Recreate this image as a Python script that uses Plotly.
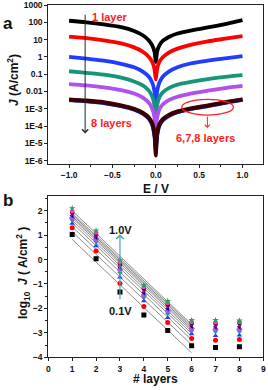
import numpy as np
import plotly.graph_objects as go

# ---------------- Panel a data (log10 J vs E) ----------------
E = [-1.0, -0.8, -0.6, -0.4, -0.25, -0.15, -0.08, -0.04, -0.015, 0.0,
     0.015, 0.04, 0.08, 0.15, 0.25, 0.4, 0.6, 0.8, 1.0]
logJ_1 = [2.09, 2.0, 1.88, 1.72, 1.5, 1.25, 0.95, 0.65, 0.3, -0.3,
          0.3, 0.65, 0.92, 1.15, 1.35, 1.52, 1.7, 1.9, 2.12]
logJ_2 = [1.17, 1.08, 0.95, 0.78, 0.55, 0.3, 0.0, -0.3, -0.7, -1.3,
          -0.7, -0.3, -0.02, 0.25, 0.48, 0.7, 0.9, 1.05, 1.2]
logJ_3 = [0.0, -0.1, -0.22, -0.4, -0.6, -0.85, -1.15, -1.5, -2.0, -2.8,
          -2.0, -1.5, -1.15, -0.85, -0.6, -0.38, -0.22, -0.08, 0.05]
logJ_4 = [-0.83, -0.92, -1.03, -1.2, -1.42, -1.65, -1.95, -2.3, -2.8, -3.5,
          -2.8, -2.35, -2.05, -1.8, -1.6, -1.45, -1.28, -1.15, -1.05]
logJ_5 = [-1.57, -1.65, -1.76, -1.92, -2.12, -2.35, -2.65, -3.0, -3.5, -4.2,
          -3.5, -3.05, -2.75, -2.5, -2.3, -2.12, -1.95, -1.8, -1.68]
logJ_6 = [-2.45, -2.52, -2.62, -2.8, -3.0, -3.22, -3.5, -3.85, -4.4, -5.7,
          -4.4, -3.9, -3.6, -3.35, -3.15, -2.97, -2.8, -2.62, -2.45]
logJ_7 = [-2.5, -2.57, -2.67, -2.85, -3.05, -3.28, -3.58, -3.95, -4.6, -5.5,
          -4.6, -4.0, -3.68, -3.42, -3.2, -3.02, -2.85, -2.66, -2.48]
logJ_8 = [-2.48, -2.55, -2.65, -2.83, -3.03, -3.26, -3.55, -3.9, -4.5, -5.2,
          -4.5, -3.95, -3.64, -3.38, -3.18, -3.0, -2.83, -2.64, -2.47]
curves_a = [logJ_1, logJ_2, logJ_3, logJ_4, logJ_5, logJ_7, logJ_8, logJ_6]
colors_a = ["#000000", "#ff0000", "#1f3cff", "#16957a", "#b04ff2",
            "#2233cc", "#14146e", "#3d0000"]

y_tickvals_a = [1e3, 1e2, 1e1, 1, 0.1, 0.01, 1e-3, 1e-4, 1e-5, 1e-6]
y_ticktext_a = ["1000", "100", "10", "1", "0.1", "0.01", "1E-3", "1E-4", "1E-5", "1E-6"]

# ---------------- Panel b data (log10 J vs layers) ----------------
layers = [1, 2, 3, 4, 5, 6, 7, 8]
voltages = ["0.1V", "0.2V", "0.3V", "0.4V", "0.5V", "0.6V", "0.7V", "0.8V", "0.9V", "1.0V"]
logJ_b = [
    [1.02, 0.03, -1.33, -2.27, -2.90, -3.53, -3.60, -3.57],
    [1.30, 0.35, -0.98, -1.92, -2.58, -3.23, -3.30, -3.27],
    [1.47, 0.55, -0.72, -1.70, -2.38, -3.05, -3.12, -3.10],
    [1.60, 0.72, -0.55, -1.55, -2.22, -2.92, -2.95, -2.95],
    [1.70, 0.83, -0.42, -1.45, -2.10, -2.82, -2.85, -2.85],
    [1.80, 0.92, -0.32, -1.35, -2.00, -2.72, -2.75, -2.75],
    [1.87, 0.98, -0.25, -1.28, -1.92, -2.65, -2.70, -2.68],
    [1.93, 1.05, -0.18, -1.20, -1.85, -2.60, -2.62, -2.60],
    [1.98, 1.10, -0.10, -1.12, -1.78, -2.55, -2.57, -2.55],
    [2.10, 1.18, -0.02, -1.05, -1.70, -2.48, -2.48, -2.50],
]
colors_b = ["#000000", "#ff0000", "#1f3cff", "#16957a", "#b04ff2",
            "#000080", "#9b0d9b", "#800000", "#ff33cc", "#22a05a"]
symbols_b = ["square", "circle", "triangle-up", "triangle-down", "diamond",
             "triangle-left", "triangle-right", "hexagon", "pentagon", "star"]

FONT = "Liberation Sans, Arial, sans-serif"

fig = go.Figure()

# panel a curves
for ys, c in zip(curves_a, colors_a):
    fig.add_trace(go.Scatter(
        x=E, y=[10 ** v for v in ys], mode="lines",
        line=dict(color=c, width=3.8, shape="spline", smoothing=0.7),
        xaxis="x", yaxis="y", showlegend=False, hoverinfo="skip"))

# panel b fit lines (linear fit over layers 1-6)
fit_x = np.array(layers[:6], dtype=float)
for vals in logJ_b:
    k, b0 = np.polyfit(fit_x, np.array(vals[:6]), 1)
    fig.add_trace(go.Scatter(
        x=[fit_x[0], fit_x[-1]], y=[k * fit_x[0] + b0, k * fit_x[-1] + b0],
        mode="lines", line=dict(color="#8c8c8c", width=1),
        xaxis="x2", yaxis="y2", showlegend=False, hoverinfo="skip"))

for vals, c, s, name in zip(logJ_b, colors_b, symbols_b, voltages):
    fig.add_trace(go.Scatter(
        x=layers, y=vals, mode="markers", name=name,
        marker=dict(color=c, symbol=s, size=5, line=dict(width=0)),
        xaxis="x2", yaxis="y2", showlegend=False))

W, H = 268, 390
def px(x):
    return x / W
def py(y):
    return 1 - y / H

xdom = [px(48.3), px(263.3)]
axis_common = dict(showline=True, linecolor="#222", linewidth=1, mirror=True,
                   ticks="outside", ticklen=3, tickwidth=1, tickcolor="#222",
                   showgrid=False, zeroline=False, automargin=False,
                   ticklabeloverflow="allow",
                   tickfont=dict(family=FONT, size=8.5, color="#111", weight="bold"))

fig.update_layout(
    width=W, height=H, margin=dict(l=0, r=0, t=0, b=0, autoexpand=False),
    paper_bgcolor="white", plot_bgcolor="white",
    xaxis=dict(domain=xdom, range=[-1.24, 1.24], dtick=0.5, tick0=0, tickformat=".1f",
               anchor="y", minor=dict(ticks="outside", ticklen=2, dtick=0.25, tick0=0,
                                      tickcolor="#222"), **axis_common),
    yaxis=dict(domain=[py(164), py(5)], type="log", range=[-6.19, 3.0],
               tickvals=y_tickvals_a, ticktext=y_ticktext_a, anchor="x", **axis_common),
    xaxis2=dict(domain=xdom, range=[0, 9], dtick=1, anchor="y2", **axis_common),
    yaxis2=dict(domain=[py(357.3), py(196)], range=[-4, 2.6], dtick=1, anchor="x2",
                minor=dict(ticks="outside", ticklen=2, dtick=0.5, tickcolor="#222"),
                **axis_common),
)

def bold(size, color="#111"):
    return dict(family=FONT, size=size, color=color, weight="bold")

C = dict(xanchor="center", yanchor="middle", showarrow=False)
ann = []
# panel labels
ann.append(dict(x=px(8), y=py(23), xref="paper", yref="paper", text="a",
                font=bold(17), **C))
ann.append(dict(x=px(8), y=py(201), xref="paper", yref="paper", text="b",
                font=bold(17), **C))
# axis titles
ann.append(dict(x=px(155.8), y=py(189), xref="paper", yref="paper", text="E / V",
                font=bold(12), **C))
ann.append(dict(x=px(155.8), y=py(378.5), xref="paper", yref="paper", text="# layers",
                font=bold(12), **C))
ann.append(dict(x=px(13), y=py(80), xref="paper", yref="paper", textangle=-90,
                text="<i>J</i> (A/cm<sup>2</sup>)", font=bold(12), **C))
ann.append(dict(x=px(23), y=py(273), xref="paper", yref="paper", textangle=-90,
                text="log<sub>10</sub>  <i>J</i> ( A/cm<sup>2</sup> )",
                font=bold(12), **C))
# panel a annotations
ann.append(dict(x=-0.815, y=-4.42, ax=-0.815, ay=2.52, xref="x", yref="y",
                axref="x", ayref="y", text="", showarrow=True, arrowhead=4,
                arrowsize=1.2, arrowwidth=1, arrowcolor="#222"))
ann.append(dict(x=-0.53, y=2.29, xref="x", yref="y", text="1 layer",
                font=bold(11, "#ff2020"), **C))
ann.append(dict(x=-0.515, y=-3.8, xref="x", yref="y", text="8 layers",
                font=bold(11, "#ff2020"), **C))
ann.append(dict(x=0.572, y=-4.67, xref="x", yref="y", text="6,7,8 layers",
                font=bold(11, "#ff2020"), **C))
ann.append(dict(x=0.595, y=-4.11, ax=0.595, ay=-3.36, xref="x", yref="y",
                axref="x", ayref="y", text="", showarrow=True, arrowhead=4,
                arrowsize=1, arrowwidth=1, arrowcolor="#ff2020"))
# panel b annotations
ann.append(dict(x=3.0, y=1.04, ax=3.0, ay=-1.69, xref="x2", yref="y2",
                axref="x2", ayref="y2", text="", showarrow=True, arrowhead=4,
                arrowsize=1.2, arrowwidth=1.2, arrowcolor="#4aa3b5"))
ann.append(dict(x=3.03, y=1.2, xref="x2", yref="y2", text="1.0V",
                font=bold(11), **C))
ann.append(dict(x=3.03, y=-2.11, xref="x2", yref="y2", text="0.1V",
                font=bold(11), **C))
fig.update_layout(annotations=ann)

fig.add_shape(type="circle", xref="x", yref="y", x0=0.30, x1=0.895,
              y0=10 ** -3.36, y1=10 ** -2.45, line=dict(color="#ff2020", width=1.3))

fig.write_html("out.html", config={"displayModeBar": False},
               post_script="document.body.style.margin='0px';"
                           "document.body.style.overflow='hidden';")
